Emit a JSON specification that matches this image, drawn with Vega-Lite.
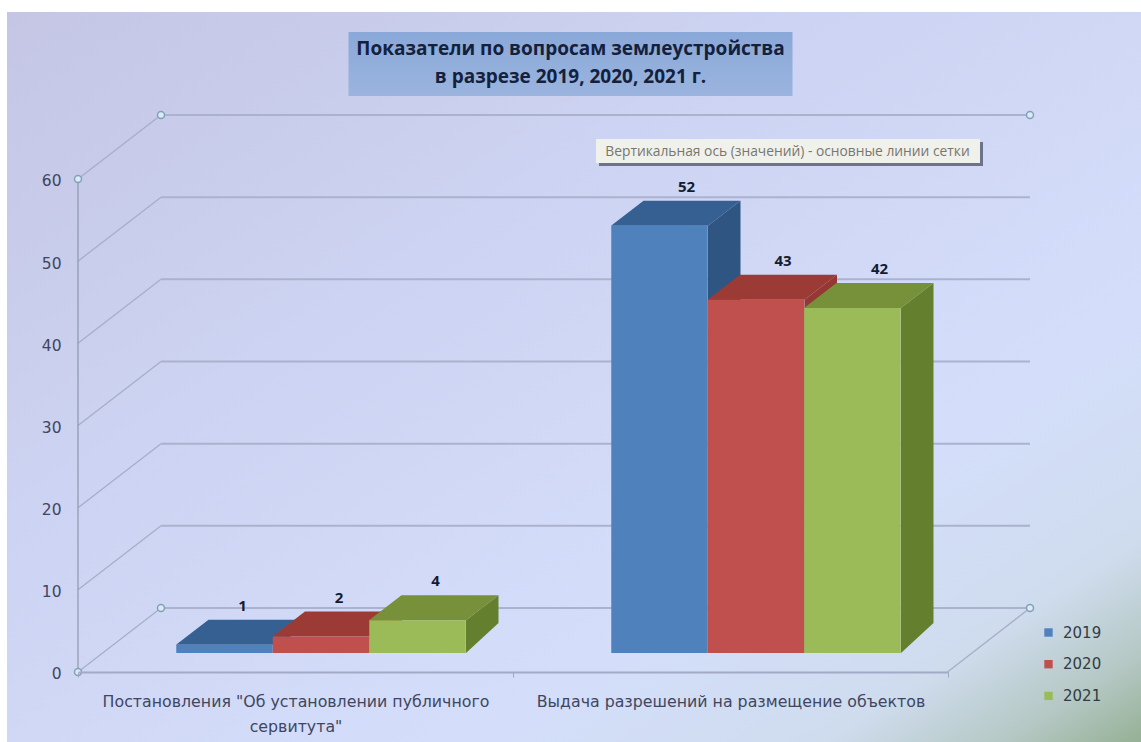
{
"$schema":"https://vega.github.io/schema/vega-lite/v6.json",
"width":1141,"height":742,"autosize":{"type":"none"},"padding":0,"background":"white",
"view":{"stroke":null},
"config":{"font":"Open Sans"},
"title":{"text":["Показатели по вопросам землеустройства","в разрезе 2019, 2020, 2021 г."],"font":"Open Sans","fontSize":19,"fontWeight":"bold","color":"#14213d","lineHeight":28,"baseline":"top","anchor":"middle","offset":-87},
"datasets":{
"bars":[
{"category":"Постановления \"Об установлении публичного сервитута\"","series":"2019","value":1},
{"category":"Постановления \"Об установлении публичного сервитута\"","series":"2020","value":2},
{"category":"Постановления \"Об установлении публичного сервитута\"","series":"2021","value":4},
{"category":"Выдача разрешений на размещение объектов","series":"2019","value":52},
{"category":"Выдача разрешений на размещение объектов","series":"2020","value":43},
{"category":"Выдача разрешений на размещение объектов","series":"2021","value":42}],
"ticks":[{"tick":0},{"tick":10},{"tick":20},{"tick":30},{"tick":40},{"tick":50},{"tick":60}],
"corners":[{"tick":0},{"tick":60}],
"floor":[{"tick":0}],
"one":[{"label":"Вертикальная ось (значений)  - основные линии сетки"}]
},
"layer":[
{"data":{"name":"one"},"mark":{"type":"point","filled":true,"size":4,"opacity":1,"strokeWidth":0,"shape":"M-563.5,-359 L570.5,-359 L570.5,371 L-563.5,371 Z","fill":{"gradient":"linear","x1":0,"y1":0,"x2":1,"y2":1,"stops":[{"offset":0,"color":"#c4c6e4"},{"offset":0.35,"color":"#cdd3f2"},{"offset":0.7,"color":"#d4defb"},{"offset":0.86,"color":"#cfdcee"},{"offset":0.94,"color":"#b5c8c4"},{"offset":1,"color":"#95b095"}]}},"encoding":{}},
{"data":{"name":"one"},"mark":{"type":"point","filled":true,"size":4,"opacity":1,"strokeWidth":0,"shape":"M-222,-339 L222,-339 L222,-275 L-222,-275 Z","fill":{"gradient":"linear","x1":0,"y1":0,"x2":0,"y2":1,"stops":[{"offset":0,"color":"#8aa8d8"},{"offset":1,"color":"#9ab4de"}]}},"encoding":{}},
{"data":{"name":"ticks"},"mark":{"type":"point","filled":false,"size":4,"opacity":1,"stroke":"#a6aec8","strokeWidth":1.3,"shape":"M-492.5,0 L-409.5,-64"},"encoding":{"y":{"field":"tick","type":"quantitative","scale":{"domain":[-8.519,81.78],"nice":false,"zero":false}}}},
{"data":{"name":"ticks"},"mark":{"type":"point","filled":false,"size":4,"opacity":1,"stroke":"#aab2ce","strokeWidth":2,"shape":"M-409.5,-64 L459.5,-64"},"encoding":{"y":{"field":"tick","type":"quantitative"}}},
{"data":{"name":"floor"},"mark":{"type":"point","filled":false,"size":4,"opacity":1,"stroke":"#a6aec8","strokeWidth":1.3,"shape":"M377,0 L459.5,-64"},"encoding":{"y":{"field":"tick","type":"quantitative"}}},
{"data":{"name":"floor"},"mark":{"type":"point","filled":false,"size":4,"opacity":1,"stroke":"#8d95ad","strokeWidth":1.2,"shape":"M-492.5,0 L-492.5,-492"},"encoding":{"y":{"field":"tick","type":"quantitative"}}},
{"data":{"name":"corners"},"mark":{"type":"point","filled":true,"size":4,"opacity":1,"fill":"#dfe8f8","stroke":"#7ea3b5","strokeWidth":1.5,"shape":"M-496,0 a3.5,3.5 0 1,0 7,0 a3.5,3.5 0 1,0 -7,0 Z M-413,-64 a3.5,3.5 0 1,0 7,0 a3.5,3.5 0 1,0 -7,0 Z M456,-64 a3.5,3.5 0 1,0 7,0 a3.5,3.5 0 1,0 -7,0 Z"},"encoding":{"y":{"field":"tick","type":"quantitative"}}},
{"data":{"name":"bars"},"mark":{"type":"point","filled":true,"size":4,"opacity":1,"strokeWidth":0,"yOffset":-19},
"encoding":{
"x":{"field":"category","type":"nominal","sort":null,"scale":{"range":[78,948],"paddingInner":0,"paddingOuter":0}},
"xOffset":{"field":"series","type":"nominal","scale":{"range":[25.5,460.5],"paddingInner":0,"paddingOuter":0.754}},
"y":{"field":"value","type":"quantitative"},
"color":{"field":"series","type":"nominal","legend":null,"scale":{"domain":["2019","2020","2021"],"range":["#2f5583","#953733","#64802f"]}},
"shape":{"field":"value","type":"nominal","legend":null,"scale":{"domain":[1,2,4,52,43,42],"range":["M48.5,0 L81,-25 L81,-22 L48.5,8 Z","M48.5,0 L81,-25 L81,-13.6 L48.5,16.4 Z","M48.5,0 L81,-25 L81,2.9 L48.5,32.9 Z","M48.5,0 L81,-25 L81,397.3 L48.5,427.3 Z","M48.5,0 L81,-25 L81,323.3 L48.5,353.3 Z","M48.5,0 L81,-25 L81,315.1 L48.5,345.1 Z"]}}}},
{"data":{"name":"bars"},"mark":{"type":"point","filled":true,"size":4,"opacity":1,"strokeWidth":0,"yOffset":-19,"shape":"M-48.5,0 L48.5,0 L81,-25 L-16,-25 Z"},
"encoding":{
"x":{"field":"category","type":"nominal","sort":null},
"xOffset":{"field":"series","type":"nominal"},
"y":{"field":"value","type":"quantitative"},
"color":{"field":"series","type":"nominal","legend":null,"scale":{"domain":["2019","2020","2021"],"range":["#376092","#9c3a36","#769139"]}}}},
{"data":{"name":"bars"},"mark":{"type":"bar","yOffset":-19,"y2Offset":-19},
"encoding":{
"x":{"field":"category","type":"nominal","sort":null,"title":null,"axis":{"zindex":1,"orient":"bottom","offset":-70,"domainColor":"#a2aac6","domainWidth":2,"tickColor":"#9ea6c0","tickSize":5,"tickBand":"extent","labelAngle":0,"labelAlign":"center","labelFont":"DejaVu Sans","labelFontSize":15.8,"labelColor":"#3f4660","labelPadding":17,"labelBaseline":"top","labelLimit":600,"labelLineHeight":25,"labelOverlap":false,"labelExpr":"indexof(datum.label,'сервитута') > 0 ? ['Постановления \"Об установлении публичного','сервитута\"'] : datum.label"}},
"xOffset":{"field":"series","type":"nominal"},
"y":{"field":"value","type":"quantitative","stack":null,"title":null,"axis":{"zindex":1,"offset":-78,"domain":false,"ticks":false,"grid":false,"values":[0,10,20,30,40,50,60],"labelPadding":17,"labelOffset":2,"labelFont":"DejaVu Sans","labelFontSize":15.5,"labelColor":"#3f4660"}},
"y2":{"datum":0},
"color":{"field":"series","type":"nominal","title":null,"scale":{"domain":["2019","2020","2021"],"range":["#4f81bd","#c0504d","#9bbb59"]},"legend":{"orient":"none","legendX":1041,"legendY":625,"symbolType":"square","symbolSize":70,"symbolStrokeWidth":0,"labelFont":"DejaVu Sans","labelFontSize":15,"labelColor":"#333b44","labelOffset":7,"rowPadding":15.7}}}},
{"data":{"name":"bars"},"transform":[{"filter":"datum.value < 10"}],"mark":{"type":"text","yOffset":-58,"dx":18,"fontWeight":"bold","fontSize":15,"color":"#141c30"},
"encoding":{"x":{"field":"category","type":"nominal","sort":null},"xOffset":{"field":"series","type":"nominal"},"y":{"field":"value","type":"quantitative"},"text":{"field":"value","type":"quantitative"}}},
{"data":{"name":"bars"},"transform":[{"filter":"datum.value > 10"}],"mark":{"type":"text","yOffset":-58,"dx":27,"fontWeight":"bold","fontSize":15,"color":"#141c30"},
"encoding":{"x":{"field":"category","type":"nominal","sort":null},"xOffset":{"field":"series","type":"nominal"},"y":{"field":"value","type":"quantitative"},"text":{"field":"value","type":"quantitative"}}},
{"data":{"name":"one"},"mark":{"type":"point","filled":true,"size":4,"opacity":1,"strokeWidth":0,"fill":"#6b7488","shape":"M28.5,-229 L412.5,-229 L412.5,-205 L28.5,-205 Z"},"encoding":{}},
{"data":{"name":"one"},"mark":{"type":"point","filled":true,"size":4,"opacity":1,"strokeWidth":0,"fill":"#f1f1ec","shape":"M25.5,-232 L409.5,-232 L409.5,-208 L25.5,-208 Z"},"encoding":{}},
{"data":{"name":"one"},"mark":{"type":"text","dx":217,"dy":-219,"fontSize":13.8,"color":"#77776f"},"encoding":{"text":{"field":"label","type":"nominal"}}}
],
"resolve":{"scale":{"color":"independent"}}
}
